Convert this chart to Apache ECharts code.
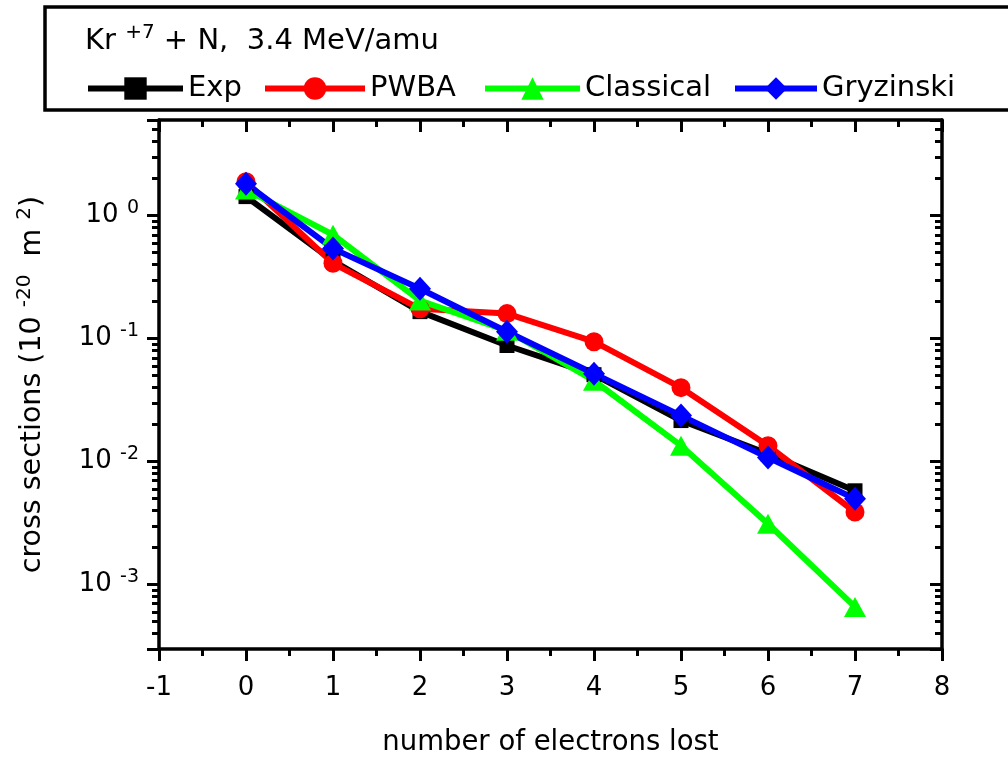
<!DOCTYPE html>
<html><head><meta charset="utf-8">
<script src="https://cdn.jsdelivr.net/npm/echarts@6/dist/echarts.min.js"></script>
<style>html,body{margin:0;padding:0;background:#fff}#c{width:1008px;height:762px}</style>
</head><body><div id="c"></div>
<script>
const xTickValues = [-1, 0, 1, 2, 3, 4, 5, 6, 7, 8];
const yDecadeExponents = [0, -1, -2, -3];
const electronsLost = [0, 1, 2, 3, 4, 5, 6, 7];
const expValues = [1.43, 0.43, 0.166, 0.088, 0.051, 0.0216, 0.0116, 0.0058];
const pwbaValues = [1.89, 0.41, 0.175, 0.16, 0.0946, 0.040, 0.0135, 0.0039];
const classicalValues = [1.63, 0.70, 0.204, 0.116, 0.0455, 0.0135, 0.00313, 0.00066];
const gryzinskiValues = [1.82, 0.54, 0.255, 0.114, 0.052, 0.0237, 0.0108, 0.0050];
const seriesNames = ['Exp', 'PWBA', 'Classical', 'Gryzinski'];
const yRange = [0.0003, 6];

const FONT = 'DejaVu Sans';
const chart = echarts.init(document.getElementById('c'), null, {renderer: 'canvas'});

const supRich = {
  b: {fontSize: 26, fontFamily: FONT, color: '#000', lineHeight: 34},
  s: {fontSize: 19, fontFamily: FONT, color: '#000', verticalAlign: 'top', lineHeight: 20}
};

function yLabel(v) {
  const l = Math.log10(v);
  const e = Math.round(l);
  if (Math.abs(l - e) > 1e-6 || yDecadeExponents.indexOf(e) < 0) return '';
  return '{b|10 }{s|' + e + '}';
}

const axisLineStyle = {color: '#000', width: 3.5};
const tickStyle = {color: '#000', width: 3};

function xAxis(pos, showLabel) {
  return {
    type: 'value', position: pos, min: xTickValues[0], max: xTickValues[xTickValues.length - 1], interval: 1,
    axisLine: {show: true, onZero: false, lineStyle: axisLineStyle},
    axisTick: {show: true, inside: pos === 'top', length: 12, lineStyle: tickStyle},
    minorTick: {show: true, splitNumber: 2, length: 7, lineStyle: tickStyle},
    splitLine: {show: false},
    axisLabel: {show: showLabel, fontSize: 26, fontFamily: FONT, color: '#000', margin: 26},
    name: showLabel ? 'number of electrons lost' : '',
    nameLocation: 'middle', nameGap: 80,
    nameTextStyle: {fontSize: 27.5, fontFamily: FONT, color: '#000'}
  };
}
function yAxis(pos, showLabel) {
  return {
    type: 'log', logBase: 10, position: pos, min: yRange[0], max: yRange[1],
    axisLine: {show: true, onZero: false, lineStyle: axisLineStyle},
    axisTick: {show: true, inside: pos === 'right', length: 12, lineStyle: tickStyle},
    minorTick: {show: true, splitNumber: 9, length: 7, lineStyle: tickStyle},
    splitLine: {show: false},
    axisLabel: {show: showLabel, formatter: yLabel, margin: 20, rich: supRich},
    name: showLabel ? 'cross sections (10 {s|-20}  m {s|2})' : '',
    nameLocation: 'middle', nameGap: 108, nameRotate: 90,
    nameTextStyle: {fontSize: 28.5, fontFamily: FONT, color: '#000', lineHeight: 36,
      rich: {s: {fontSize: 20, fontFamily: FONT, color: '#000', verticalAlign: 'top', lineHeight: 21}}}
  };
}

function mk(name, values, color, symbol, size) {
  return {
    name: name, type: 'line', xAxisIndex: 0, yAxisIndex: 0,
    data: electronsLost.map((x, i) => [x, values[i]]),
    symbol: symbol, symbolSize: size, showSymbol: true,
    lineStyle: {color: color, width: 6},
    itemStyle: {color: color, borderWidth: 0},
    emphasis: {disabled: true}
  };
}

const legendCommon = {
  padding: 0, itemHeight: 28, top: 74,
  textStyle: {fontSize: 29, fontFamily: FONT, color: '#000'},
  lineStyle: {width: 6}, selectedMode: false
};

chart.setOption({
  animation: false,
  backgroundColor: '#fff',
  grid: {left: 159, right: 66, top: 120, bottom: 112, containLabel: false},
  title: {
    text: '{a|Kr }{s|+7}{a| + N,  3.4 MeV/amu}',
    left: 85, top: 23, padding: 0,
    textStyle: {fontWeight: 'normal', rich: {
      a: {fontSize: 29, fontWeight: 'normal', fontFamily: FONT, color: '#000', lineHeight: 36},
      s: {fontSize: 20, fontWeight: 'normal', fontFamily: FONT, color: '#000', verticalAlign: 'top', lineHeight: 22}
    }}
  },
  graphic: [{
    type: 'rect', shape: {x: 45, y: 7, width: 970, height: 103},
    style: {fill: 'none', stroke: '#000', lineWidth: 3.5}, silent: true, z: 100
  }],
  legend: [
    Object.assign({data: [seriesNames[0]], left: 85, itemWidth: 95}, legendCommon),
    Object.assign({data: [seriesNames[1]], left: 262, itemWidth: 100}, legendCommon),
    Object.assign({data: [seriesNames[2]], left: 482, itemWidth: 95}, legendCommon),
    Object.assign({data: [seriesNames[3]], left: 732, itemWidth: 82}, legendCommon)
  ],
  xAxis: [xAxis('bottom', true), xAxis('top', false)],
  yAxis: [yAxis('left', true), yAxis('right', false)],
  series: [
    mk(seriesNames[0], expValues, '#000000', 'rect', 15),
    mk(seriesNames[1], pwbaValues, '#ff0000', 'circle', 19),
    mk(seriesNames[2], classicalValues, '#00ff00', 'triangle', [22, 20]),
    mk(seriesNames[3], gryzinskiValues, '#0000ff', 'diamond', [22, 24])
  ]
});
</script></body></html>
